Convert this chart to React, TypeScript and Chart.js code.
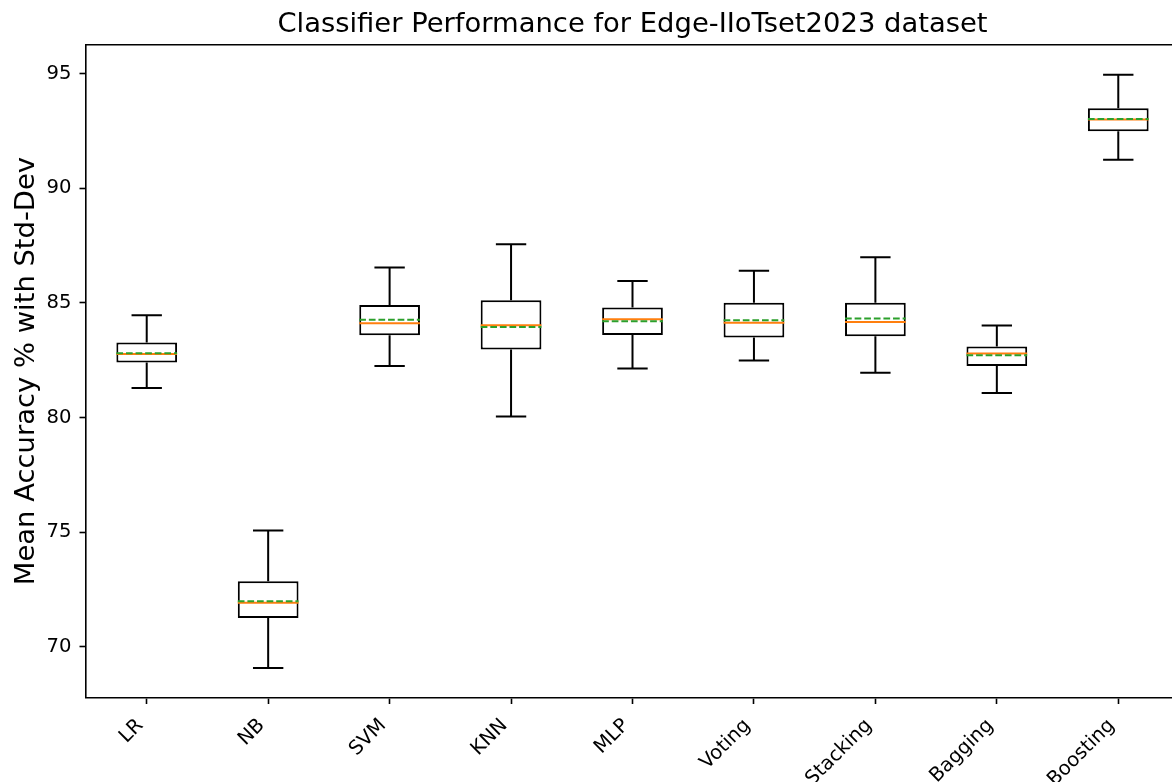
import React, { useEffect, useRef } from 'react';
import { Chart, registerables } from 'chart.js';

Chart.register(...registerables);

const categories = ['LR', 'NB', 'SVM', 'KNN', 'MLP', 'Voting', 'Stacking', 'Bagging', 'Boosting'];
const whiskerLow = [81.29, 69.07, 82.25, 80.04, 82.14, 82.49, 81.95, 81.07, 91.25];
const q1 = [82.4, 71.25, 83.59, 82.97, 83.6, 83.49, 83.55, 82.25, 92.49];
const median = [82.77, 71.92, 84.11, 84.03, 84.29, 84.14, 84.17, 82.79, 93.01];
const mean = [82.8, 71.98, 84.27, 83.95, 84.2, 84.24, 84.32, 82.72, 93.03];
const q3 = [83.27, 72.85, 84.91, 85.12, 84.8, 85.01, 85.01, 83.1, 93.5];
const whiskerHigh = [84.46, 75.07, 86.55, 87.56, 85.96, 86.4, 86.99, 84.01, 94.96];
const yTicks = [70, 75, 80, 85, 90, 95];
const yMin = 67.78;
const yMax = 96.27;

const FONT = '"DejaVu Sans", "Liberation Sans", sans-serif';

export default function App() {
  const ref = useRef<HTMLCanvasElement>(null);

  useEffect(() => {
    const canvas = ref.current;
    if (!canvas) return;

    const boxParts = {
      id: 'boxParts',
      beforeDraw(chart: any) {
        const ctx = chart.ctx;
        ctx.save();
        ctx.fillStyle = '#ffffff';
        ctx.fillRect(0, 0, chart.width, chart.height);
        ctx.restore();
      },
      afterDatasetsDraw(chart: any) {
        const ctx = chart.ctx;
        const xs = chart.scales.x;
        const ys = chart.scales.y;
        const step = xs.getPixelForValue(1) - xs.getPixelForValue(0);
        const half = step * 0.25;
        const capHalf = half / 2;
        ctx.save();
        ctx.lineWidth = 2;
        categories.forEach((_, i) => {
          const cx = xs.getPixelForValue(i);
          const yLo = ys.getPixelForValue(whiskerLow[i]);
          const yQ1 = ys.getPixelForValue(q1[i]);
          const yQ3 = ys.getPixelForValue(q3[i]);
          const yHi = ys.getPixelForValue(whiskerHigh[i]);
          ctx.strokeStyle = '#000000';
          ctx.setLineDash([]);
          ctx.beginPath();
          ctx.moveTo(cx, yQ1);
          ctx.lineTo(cx, yLo);
          ctx.moveTo(cx, yQ3);
          ctx.lineTo(cx, yHi);
          ctx.moveTo(cx - capHalf, yLo);
          ctx.lineTo(cx + capHalf, yLo);
          ctx.moveTo(cx - capHalf, yHi);
          ctx.lineTo(cx + capHalf, yHi);
          ctx.stroke();
          // median
          const yMed = ys.getPixelForValue(median[i]);
          ctx.strokeStyle = '#ff7f0e';
          ctx.beginPath();
          ctx.moveTo(cx - half, yMed);
          ctx.lineTo(cx + half, yMed);
          ctx.stroke();
          // mean
          const yMean = ys.getPixelForValue(mean[i]);
          ctx.strokeStyle = '#2ca02c';
          ctx.setLineDash([6.7, 2.9]);
          ctx.beginPath();
          ctx.moveTo(cx - half, yMean);
          ctx.lineTo(cx + half, yMean);
          ctx.stroke();
        });
        ctx.restore();
      },
      afterDraw(chart: any) {
        const ctx = chart.ctx;
        const a = chart.chartArea;
        const xs = chart.scales.x;
        ctx.save();
        ctx.strokeStyle = '#000000';
        ctx.lineWidth = 1.6;
        ctx.beginPath();
        ctx.moveTo(a.left, a.top);
        ctx.lineTo(a.right, a.top);
        ctx.lineTo(a.right, a.bottom);
        ctx.stroke();
        ctx.fillStyle = '#000000';
        ctx.font = '19.6px ' + FONT;
        ctx.textAlign = 'right';
        ctx.textBaseline = 'middle';
        categories.forEach((label, i) => {
          const px = xs.getPixelForValue(i);
          ctx.save();
          ctx.translate(px - 6.5, a.bottom + 25);
          ctx.rotate(-Math.PI / 4);
          ctx.fillText(label, 0, 0);
          ctx.restore();
        });
        ctx.restore();
      },
    };

    const chart = new Chart(canvas, {
      type: 'bar',
      data: {
        labels: categories,
        datasets: [
          {
            label: 'IQR',
            data: categories.map((_, i) => [q1[i], q3[i]]),
            backgroundColor: '#ffffff',
            borderColor: '#000000',
            borderWidth: 2,
            borderSkipped: false,
            barPercentage: 0.5,
            categoryPercentage: 1,
          },
        ],
      },
      options: {
        responsive: false,
        animation: false,
        layout: { padding: 0 },
        plugins: {
          legend: { display: false },
          tooltip: { enabled: false },
          title: {
            display: true,
            text: 'Classifier Performance for Edge-IIoTset2023 dataset',
            fullSize: false,
            color: '#000000',
            font: { family: FONT, size: 27.4, weight: 'normal', lineHeight: 1.2 },
            padding: { top: 8.8, bottom: 3.0 },
          },
        },
        scales: {
          x: {
            type: 'category',
            offset: true,
            grid: {
              offset: false,
              drawOnChartArea: false,
              drawTicks: true,
              tickLength: 6.5,
              tickColor: '#000000',
              tickWidth: 1.6,
            },
            border: { display: true, color: '#000000', width: 1.6 },
            ticks: { display: false, autoSkip: false },
            afterFit(scale: any) {
              scale.height = 84.5;
            },
          },
          y: {
            type: 'linear',
            min: yMin,
            max: yMax,
            afterBuildTicks(scale: any) {
              scale.ticks = yTicks.map((v) => ({ value: v }));
            },
            grid: {
              drawOnChartArea: false,
              drawTicks: true,
              tickLength: 6.5,
              tickColor: '#000000',
              tickWidth: 1.6,
            },
            border: { display: true, color: '#000000', width: 1.6 },
            ticks: {
              color: '#000000',
              padding: 8,
              font: { family: FONT, size: 19.6 },
              callback: (v: any) => String(v),
            },
            title: {
              display: true,
              text: 'Mean Accuracy % with Std-Dev',
              color: '#000000',
              font: { family: FONT, size: 27.4, weight: 'normal', lineHeight: 1.2 },
              padding: { top: 10.5, bottom: 0 },
            },
            afterFit(scale: any) {
              scale.width = 86;
            },
          },
        },
      },
      plugins: [boxParts],
    } as any);

    return () => {
      chart.destroy();
    };
  }, []);

  return (
    <div
      style={{
        position: 'fixed',
        left: 0,
        top: 0,
        width: 1172,
        height: 782,
        overflow: 'hidden',
        background: '#ffffff',
      }}
    >
      <canvas ref={ref} width={1179} height={782} style={{ width: 1179, height: 782, display: 'block' }} />
    </div>
  );
}
